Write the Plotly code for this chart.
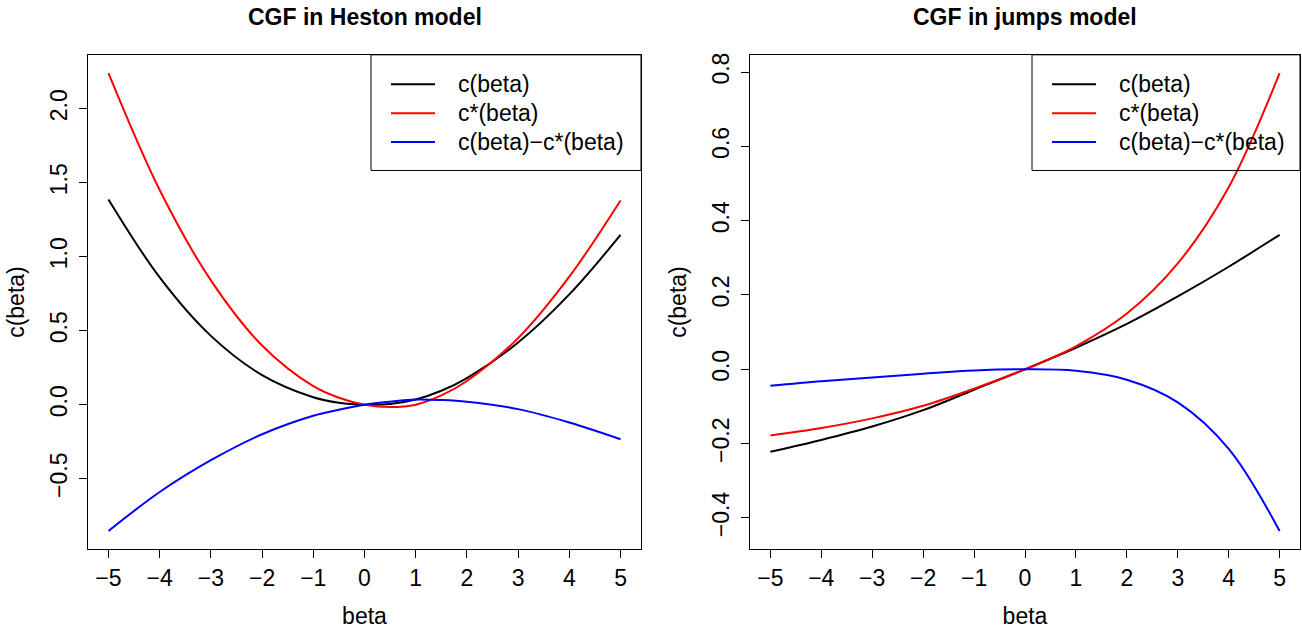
import plotly.graph_objects as go

# ---- data ----
beta_heston = [-5, -4, -3, -2, -1, -0.5, 0, 0.5, 1, 1.5, 2, 3, 4, 5]
c_heston = [1.387, 0.86, 0.465, 0.20, 0.05, 0.0125, 0.0, 0.005, 0.035, 0.094, 0.18, 0.42, 0.745, 1.147]
cstar_heston = [2.24, 1.45, 0.84, 0.40, 0.125, 0.047, 0.0, -0.0156, 0.0, 0.0625, 0.16, 0.45, 0.865, 1.38]
diff_heston = [-0.853, -0.59, -0.375, -0.20, -0.075, -0.0345, 0.0, 0.0206, 0.035, 0.0315, 0.02, -0.03, -0.12, -0.233]

beta_jumps = [-5, -4, -3, -2, -1, 0, 1, 2, 3, 4, 5]
c_jumps = [-0.222, -0.190, -0.154, -0.110, -0.055, 0.0, 0.058, 0.122, 0.196, 0.276, 0.362]
cstar_jumps = [-0.178, -0.158, -0.132, -0.098, -0.052, 0.0, 0.062, 0.150, 0.285, 0.490, 0.797]
diff_jumps = [-0.044, -0.032, -0.022, -0.012, -0.003, 0.0, -0.004, -0.028, -0.089, -0.214, -0.435]

series_names = ["c(beta)", "c*(beta)", "c(beta)\u2212c*(beta)"]
series_colors = ["#000000", "#ff0000", "#0000ff"]
titles = ["CGF in Heston model", "CGF in jumps model"]

W, H = 1302, 631
FONT = "Liberation Sans, Arial, Helvetica, sans-serif"
FS = 23


def px_x(p):
    return p / W


def px_y(p):
    return 1 - p / H


def rng(*series):
    lo = min(min(s) for s in series)
    hi = max(max(s) for s in series)
    pad = 0.04 * (hi - lo)
    return [lo - pad, hi + pad]


fig = go.Figure()

panels = [
    (beta_heston, [c_heston, cstar_heston, diff_heston], "x", "y"),
    (beta_jumps, [c_jumps, cstar_jumps, diff_jumps], "x2", "y2"),
]

for bx, ys, xa, ya in panels:
    for i, yv in enumerate(ys):
        fig.add_trace(go.Scatter(
            x=bx, y=yv, mode="lines", name=series_names[i], showlegend=False,
            line=dict(color=series_colors[i], width=2, shape="spline", smoothing=1.0),
            xaxis=xa, yaxis=ya,
        ))

# plot-region pixel boxes
left_px = (88, 641)
right_px = (750, 1300)
top_px, bot_px = 53, 549

xd1 = [px_x(left_px[0]), px_x(left_px[1])]
xd2 = [px_x(right_px[0]), px_x(right_px[1])]
yd = [px_y(bot_px), px_y(top_px)]

axis_common = dict(
    showline=True, mirror=True, linecolor="black", linewidth=1,
    ticks="outside", ticklen=8, tickcolor="black", tickwidth=1,
    showgrid=False, zeroline=False,
    tickfont=dict(family=FONT, size=FS, color="black"),
)

xcommon = dict(axis_common, range=[-5.4, 5.4], tick0=-5, dtick=1,
               ticklabelstandoff=0,
               title=dict(text="beta", font=dict(family=FONT, size=FS, color="black"), standoff=18))

ycommon = dict(axis_common, tickformat=".1f", tickangle=-90, ticklabelstandoff=3,
               title=dict(text="c(beta)", font=dict(family=FONT, size=FS, color="black"), standoff=14))

fig.update_layout(
    width=W, height=H,
    margin=dict(l=0, r=0, t=0, b=0),
    paper_bgcolor="white", plot_bgcolor="white",
    font=dict(family=FONT, size=FS, color="black"),
    showlegend=False,
    xaxis=dict(xcommon, domain=xd1, anchor="y"),
    xaxis2=dict(xcommon, domain=xd2, anchor="y2"),
    yaxis=dict(ycommon, domain=yd, anchor="x", range=rng(c_heston, cstar_heston, diff_heston),
               tick0=0, dtick=0.5),
    yaxis2=dict(ycommon, domain=yd, anchor="x2", range=rng(c_jumps, cstar_jumps, diff_jumps),
                tick0=0, dtick=0.2),
)

# panel titles
for t, xd in zip(titles, [xd1, xd2]):
    fig.add_annotation(
        text="<b>" + t + "</b>", x=(xd[0] + xd[1]) / 2, y=px_y(15),
        xref="paper", yref="paper", showarrow=False, xanchor="center", yanchor="middle",
        font=dict(family=FONT, size=FS, color="black"),
    )

# R-style legends (top right of each panel, transparent background)
legend_left = [371, 1032]
legend_right = [left_px[1], right_px[1]]
legend_top, legend_bot = top_px, 169
row_y = [82.5, 111.5, 140.5]
for lx, rx in zip(legend_left, legend_right):
    fig.add_shape(type="rect", xref="paper", yref="paper",
                  x0=px_x(lx), x1=px_x(rx), y0=px_y(legend_bot), y1=px_y(legend_top),
                  line=dict(color="black", width=1), fillcolor="rgba(0,0,0,0)", layer="above")
    for i, ry in enumerate(row_y):
        fig.add_shape(type="line", xref="paper", yref="paper",
                      x0=px_x(lx + 20), x1=px_x(lx + 64), y0=px_y(ry), y1=px_y(ry),
                      line=dict(color=series_colors[i], width=2), layer="above")
        fig.add_annotation(text=series_names[i], x=px_x(lx + 85), y=px_y(ry),
                           xref="paper", yref="paper", showarrow=False,
                           xanchor="left", yanchor="middle",
                           font=dict(family=FONT, size=FS, color="black"))

# the page body normally has an 8px margin; remove it so the figure fills the window
fig.write_html("out.html", config={"displayModeBar": False},
               post_script="document.body.style.margin='0px';")
